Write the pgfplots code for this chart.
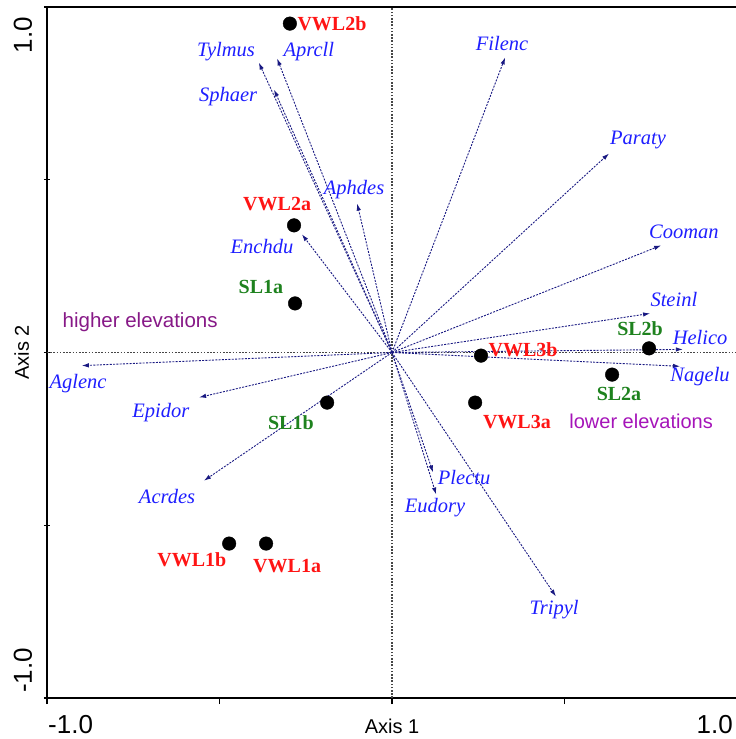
\documentclass[border=0pt]{standalone}
\usepackage{fontspec}
\setmainfont{Liberation Serif}
\setsansfont{Liberation Sans}
\usepackage{pgfplots}
\pgfplotsset{compat=1.18}
\usetikzlibrary{arrows.meta}
\definecolor{arr}{RGB}{25,25,130}
\definecolor{lblblue}{RGB}{30,30,255}
\definecolor{sitered}{RGB}{255,20,20}
\definecolor{sitegreen}{RGB}{30,130,30}
\definecolor{hipurple}{RGB}{135,25,135}
\definecolor{lopurple}{RGB}{165,20,185}
\definecolor{guide}{RGB}{70,70,70}
\tikzset{
  sp/.style={arr, line width=0.9pt, dash pattern=on 2pt off 1.3pt, -{Latex[length=7pt,width=4.5pt]}},
  spl/.style={lblblue, font=\fontsize{20.5}{22}\selectfont\itshape, inner sep=0pt},
  sr/.style={sitered, font=\fontsize{20}{22}\selectfont\bfseries, inner sep=0pt},
  sg/.style={sitegreen, font=\fontsize{20}{22}\selectfont\bfseries, inner sep=0pt},
}
\begin{document}
\begin{tikzpicture}
\begin{axis}[
  name=ax,
  width=690pt, height=691pt, scale only axis,
  xmin=-1, xmax=1, ymin=-1, ymax=1,
  axis x line*=bottom, axis y line*=left,
  axis line style={-, line width=1.2pt},
  xtick={-1,-0.5,0,0.5,1}, ytick={-1,-0.5,0,0.5,1},
  xticklabels={}, yticklabels={},
  xtick align=outside, ytick align=center,
  major tick length=6pt,
  tick style={line width=1.2pt, black},
  clip=false,
]
\draw[line width=1.2pt] (rel axis cs:0,1) -- (rel axis cs:1,1);
% guide lines through origin
\addplot[guide, line width=1.1pt, dash pattern=on 1.6pt off 1.6pt] coordinates {(-1,0) (1,0)};
\addplot[guide, line width=1.1pt, dash pattern=on 1.6pt off 1.6pt] coordinates {(0,-1) (0,1)};
% species arrows
\addplot[sp] coordinates {(0,0) (-0.386,0.839)}; % Tylmus
\addplot[sp] coordinates {(0,0) (-0.333,0.851)}; % Aprcll
\addplot[sp] coordinates {(0,0) (-0.342,0.761)}; % Sphaer
\addplot[sp] coordinates {(0,0) (-0.101,0.431)}; % Aphdes
\addplot[sp] coordinates {(0,0) (-0.261,0.342)}; % Enchdu
\addplot[sp] coordinates {(0,0) (-0.899,-0.038)}; % Aglenc
\addplot[sp] coordinates {(0,0) (-0.559,-0.130)}; % Epidor
\addplot[sp] coordinates {(0,0) (-0.545,-0.371)}; % Acrdes
\addplot[sp] coordinates {(0,0) (0.328,0.854)}; % Filenc
\addplot[sp] coordinates {(0,0) (0.629,0.576)}; % Paraty
\addplot[sp] coordinates {(0,0) (0.780,0.310)}; % Cooman
\addplot[sp] coordinates {(0,0) (0.748,0.113)}; % Steinl
\addplot[sp] coordinates {(0,0) (0.843,0.009)}; % Helico
\addplot[sp] coordinates {(0,0) (0.835,-0.040)}; % Nagelu
\addplot[sp] coordinates {(0,0) (0.119,-0.347)}; % Plectu
\addplot[sp] coordinates {(0,0) (0.128,-0.411)}; % Eudory
\addplot[sp] coordinates {(0,0) (0.475,-0.706)}; % Tripyl
% sites
\addplot[only marks, mark=*, mark size=6.8pt, black] coordinates {
  (-0.296,0.952) (-0.284,0.368) (-0.281,0.142) (-0.188,-0.145)
  (-0.472,-0.553) (-0.365,-0.553) (0.258,-0.009) (0.745,0.012)
  (0.241,-0.145) (0.638,-0.064)};
% species labels
\node[spl] at (axis cs:-0.481,0.871) {Tylmus};
\node[spl] at (axis cs:-0.241,0.871) {Aprcll};
\node[spl] at (axis cs:-0.475,0.741) {Sphaer};
\node[spl] at (axis cs:-0.110,0.472) {Aphdes};
\node[spl] at (axis cs:-0.377,0.307) {Enchdu};
\node[spl] at (axis cs:-0.910,-0.090) {Aglenc};
\node[spl] at (axis cs:-0.670,-0.174) {Epidor};
\node[spl] at (axis cs:-0.652,-0.417) {Acrdes};
\node[spl] at (axis cs:0.319,0.894) {Filenc};
\node[spl] at (axis cs:0.713,0.614) {Paraty};
\node[spl] at (axis cs:0.846,0.350) {Cooman};
\node[spl] at (axis cs:0.817,0.153) {Steinl};
\node[spl] at (axis cs:0.893,0.043) {Helico};
\node[spl] at (axis cs:0.893,-0.069) {Nagelu};
\node[spl] at (axis cs:0.209,-0.362) {Plectu};
\node[spl] at (axis cs:0.125,-0.449) {Eudory};
\node[spl] at (axis cs:0.470,-0.744) {Tripyl};
% site labels
\node[sr] at (axis cs:-0.174,0.952) {VWL2b};
\node[sr] at (axis cs:-0.333,0.431) {VWL2a};
\node[sg] at (axis cs:-0.380,0.191) {SL1a};
\node[sg] at (axis cs:-0.293,-0.203) {SL1b};
\node[sr] at (axis cs:-0.580,-0.599) {VWL1b};
\node[sr] at (axis cs:-0.304,-0.619) {VWL1a};
\node[sr] at (axis cs:0.380,0.009) {VWL3b};
\node[sg] at (axis cs:0.719,0.069) {SL2b};
\node[sr] at (axis cs:0.362,-0.200) {VWL3a};
\node[sg] at (axis cs:0.658,-0.119) {SL2a};
% annotations
\node[hipurple, font=\sffamily\fontsize{20.5}{22}\selectfont, inner sep=0pt] at (axis cs:-0.730,0.087) {higher elevations};
\node[lopurple, font=\sffamily\fontsize{20}{22}\selectfont, inner sep=0pt] at (axis cs:0.722,-0.200) {lower elevations};
% tick labels
\node[font=\sffamily\fontsize{26}{28}\selectfont, inner sep=0pt, anchor=base west] at ([shift={(1pt,-35pt)}]rel axis cs:0,0) {-1.0};
\node[font=\sffamily\fontsize{26}{28}\selectfont, inner sep=0pt, anchor=base east] at ([shift={(-4pt,-35pt)}]rel axis cs:1,0) {1.0};
\node[font=\sffamily\fontsize{26}{28}\selectfont, inner sep=0pt, anchor=base east, rotate=90] at ([shift={(-15pt,-10pt)}]rel axis cs:0,1) {1.0};
\node[font=\sffamily\fontsize{26}{28}\selectfont, inner sep=0pt, anchor=base west, rotate=90] at ([shift={(-15pt,5pt)}]rel axis cs:0,0) {-1.0};
% axis titles
\node[font=\sffamily\fontsize{20}{22}\selectfont, inner sep=0pt, anchor=base] at ([yshift=-35pt]axis cs:0,-1) {Axis 1};
\node[font=\sffamily\fontsize{20}{22}\selectfont, inner sep=0pt, anchor=base, rotate=90] at ([xshift=-18pt]axis cs:-1,0) {Axis 2};
\end{axis}
\pgfresetboundingbox
\path ([shift={(-47pt,-41pt)}]ax.south west) rectangle ([shift={(-1pt,7pt)}]ax.north east);
\end{tikzpicture}
\end{document}
